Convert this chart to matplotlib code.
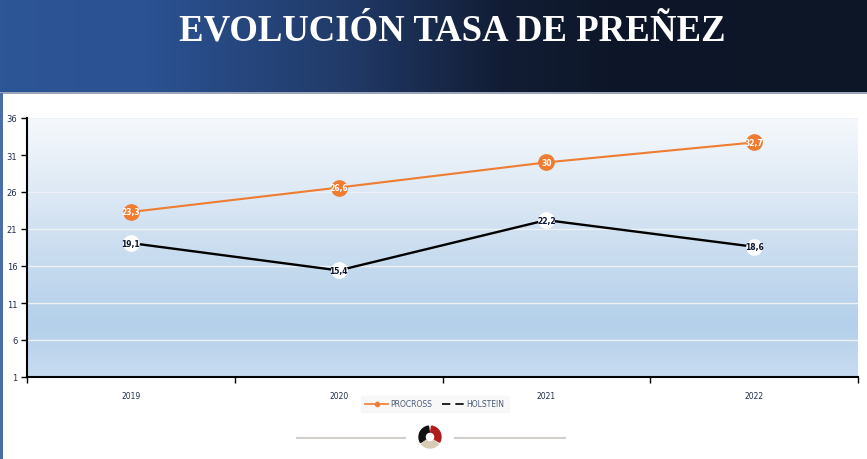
import numpy as np
import matplotlib
matplotlib.use("Agg")
import matplotlib.pyplot as plt
from matplotlib.colors import LinearSegmentedColormap
from matplotlib.lines import Line2D
from matplotlib.patches import Wedge, Rectangle

# ---- data ----
years = ["2019", "2020", "2021", "2022"]
procross = [23.3, 26.6, 30.0, 32.7]
holstein = [19.1, 15.4, 22.2, 18.6]
procross_labels = ["23,3", "26,6", "30", "32,7"]
holstein_labels = ["19,1", "15,4", "22,2", "18,6"]
y_ticks = [1, 6, 11, 16, 21, 26, 31, 36]
title = "EVOLUCIÓN TASA DE PREÑEZ"

W, H = 867, 460
fig = plt.figure(figsize=(W / 100, H / 100), dpi=100)
fig.patch.set_facecolor("white")

# ---- background overlay (pixel coordinates) ----
bg = fig.add_axes([0, 0, 1, 1], zorder=0)
bg.set_xlim(0, W)
bg.set_ylim(H, 0)
bg.axis("off")

stops = [(0.0, "#2d5697"), (0.17, "#2b5292"), (0.40, "#213a68"),
         (0.58, "#121d35"), (0.70, "#0e1729"), (1.0, "#0d1627")]
cmap_h = LinearSegmentedColormap.from_list("hdr", stops)
grad = np.linspace(0, 1, 512).reshape(1, -1)
bg.imshow(grad, cmap=cmap_h, extent=[0, W, 93, 0], aspect="auto", zorder=1)
bg.add_patch(Rectangle((0, 93), W, 1.5, color="#9aa6b8", zorder=2, lw=0))
bg.add_patch(Rectangle((0, 94), 3, H - 94, color="#4a6ea8", zorder=2, lw=0))

bg.text(452, 31, title, color="white", fontsize=26.5, fontweight="bold",
        family="Liberation Serif", ha="center", va="center", zorder=3)

# decorative lines and logo
bg.plot([297, 405], [439, 439], color="#d3d0cb", lw=1.5, zorder=2)
bg.plot([455, 565], [439, 439], color="#d3d0cb", lw=1.5, zorder=2)
bg.add_patch(Wedge((430, 438), 11, 150, 262, width=6, color="#111111", zorder=3))
bg.add_patch(Wedge((430, 438), 11, -82, 28, width=6, color="#b01c1c", zorder=3))
bg.add_patch(Wedge((430, 438), 11, 40, 140, width=6, color="#d8cbb4", zorder=3))

# ---- main axes ----
ax = fig.add_axes([27 / W, 82 / H, 831 / W, 259 / H], zorder=1)
ax.set_xlim(-0.5, 3.5)
ax.set_ylim(1, 36)
ax.patch.set_alpha(0)

pstops = [(0.0, "#c8dcf0"), (0.2, "#b4d0ea"), (0.55, "#cfe0f1"), (1.0, "#f6f9fc")]
cmap_p = LinearSegmentedColormap.from_list("pl", pstops)
vgrad = np.linspace(0, 1, 256).reshape(-1, 1)
ax.imshow(vgrad, cmap=cmap_p, extent=[-0.5, 3.5, 1, 36], aspect="auto",
          origin="lower", zorder=0)

for yv in y_ticks[1:]:
    ax.axhline(yv, color="#eef1f5", lw=1, zorder=1)

x = np.arange(len(years))
ax.plot(x, procross, color="#ee7d31", lw=1.5, zorder=3)
ax.plot(x, procross, "o", color="#ee7d31", ms=11, mec="#ee7d31", zorder=4)
ax.plot(x, holstein, color="#000000", lw=1.7, zorder=3)
ax.plot(x, holstein, "o", color="white", ms=11, mec="white", zorder=4)

for xi, v, s in zip(x, procross, procross_labels):
    ax.text(xi, v, s, color="white", fontsize=5.5, fontweight="bold",
            ha="center", va="center", zorder=5)
for xi, v, s in zip(x, holstein, holstein_labels):
    ax.text(xi, v, s, color="#0b1530", fontsize=5.5, fontweight="bold",
            ha="center", va="center", zorder=5)

ax.set_yticks(y_ticks)
ax.set_yticklabels([str(t) for t in y_ticks])
ax.set_xticks(x)
ax.set_xticklabels(years)
ax.set_xticks(np.arange(-0.5, 3.6, 1), minor=True)
ax.tick_params(axis="x", which="major", length=0, pad=10, labelsize=5.5,
               labelcolor="#1f2d4d")
ax.tick_params(axis="x", which="minor", length=4, width=1, color="black")
ax.tick_params(axis="y", length=4, width=1, labelsize=6, labelcolor="#1f2d4d", pad=3)
for side in ["top", "right"]:
    ax.spines[side].set_visible(False)
ax.spines["left"].set_linewidth(1.5)
ax.spines["bottom"].set_linewidth(1.5)

handles = [
    Line2D([0], [0], color="#ee7d31", lw=1.2, marker="o", ms=3),
    Line2D([0], [0], color="black", lw=1.2, ls=(0, (5, 3))),
]
leg = fig.legend(handles, ["PROCROSS", "HOLSTEIN"], loc="center",
                 bbox_to_anchor=(435 / W, 1 - 405 / H), ncol=2, frameon=True,
                 fontsize=5.5, handlelength=3, columnspacing=1.2,
                 borderpad=0.5, handletextpad=0.3)
leg.get_frame().set_facecolor("#f7f7f7")
leg.get_frame().set_edgecolor("#f7f7f7")
for t in leg.get_texts():
    t.set_color("#4a5a78")

fig.savefig("out.png", dpi=100, facecolor=fig.get_facecolor())
